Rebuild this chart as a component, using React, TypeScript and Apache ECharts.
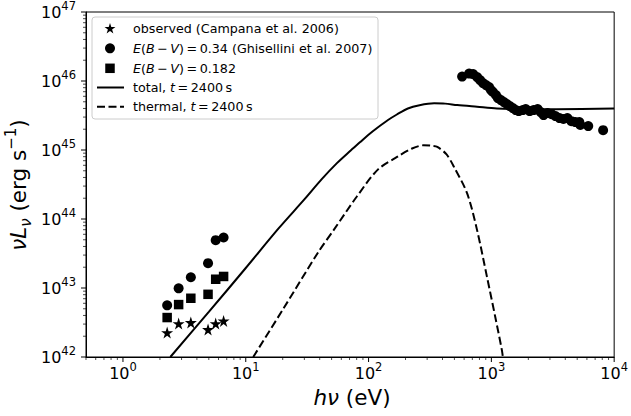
import React, { useEffect, useRef } from "react";
import * as echarts from "echarts";

// ---------------- data ----------------
const OPT_E = [2.29, 2.84, 3.57, 4.93, 5.69, 6.6];
const OBSERVED_L = [2.26e42, 3.05e42, 3.16e42, 2.5e42, 3.05e42, 3.33e42];
const EBV034_L = [5.6e42, 9.9e42, 1.43e43, 2.29e43, 4.93e43, 5.4e43];
const EBV0182_L = [3.73e42, 5.75e42, 7.1e42, 8.1e42, 1.34e43, 1.47e43];

const XRAY_E = [578, 659, 710, 765, 809, 855, 904, 957, 993, 1030, 1089, 1130, 1196, 1265, 1337, 1413, 1496, 1581, 1671, 1803, 1905, 2051, 2210, 2382, 2518, 2661, 2869, 3092, 3329, 3589, 3864, 4159, 4485, 4830, 5203, 5300, 6150, 8130];
const XRAY_L = [1.16e46, 1.28e46, 1.26e46, 1.14e46, 1.03e46, 9.33e45, 8.73e45, 8.17e45, 7.39e45, 6.92e45, 6.25e45, 5.66e45, 5.29e45, 4.95e45, 4.63e45, 4.33e45, 4.05e45, 3.79e45, 3.66e45, 3.79e45, 3.92e45, 3.66e45, 3.79e45, 3.92e45, 3.54e45, 3.21e45, 3.43e45, 3.31e45, 3.1e45, 2.9e45, 2.81e45, 2.9e45, 2.62e45, 2.54e45, 2.54e45, 2.3e45, 2.22e45, 1.94e45];

const TOTAL_E = [2.43, 5, 10, 18.5, 30, 41.4, 55, 70, 85, 99.3, 118, 144, 170, 209, 260, 342, 420, 527, 765, 1110, 2000, 3400, 10000];
const TOTAL_L = [1e42, 4.5e42, 1.95e43, 7.3e43, 1.92e44, 3.75e44, 6.4e44, 9.5e44, 1.29e45, 1.65e45, 2.1e45, 2.72e45, 3.27e45, 4.0e45, 4.45e45, 4.74e45, 4.7e45, 4.48e45, 4.23e45, 4.0e45, 3.88e45, 3.9e45, 4.0e45];

const THERMAL_E = [11.5, 20, 38.9, 53.1, 80, 119, 172, 226, 280, 330, 363, 430, 496, 635, 765, 921, 1076, 1219, 1240];
const THERMAL_L = [1e42, 4.84e42, 3.3e43, 7.3e43, 2.1e44, 5.2e44, 8.0e44, 1.05e45, 1.17e45, 1.15e45, 1.11e45, 8.7e44, 5.7e44, 2.35e44, 6.9e43, 1.45e43, 3.8e42, 1.25e42, 1e42];

// axes / ticks
const X_MIN = 0.5;
const X_MAX = 1e4;
const Y_MIN = 1e42;
const Y_MAX = 1e47;
const X_MAJOR = [1, 10, 100, 1000, 10000];
const Y_MAJOR = [1e42, 1e43, 1e44, 1e45, 1e46, 1e47];
const MINOR_MULT = [2, 3, 4, 5, 6, 7, 8, 9];

const TS = "\u2009"; // thin space (mathtext spacing)
const LEGEND_LABELS = [
  "{n|observed (Campana et al. 2006)}",
  "{i|E}{n|(}{i|B}{n|" + TS + "−" + TS + "}{i|V}{n|)" + TS + "=" + TS + "0.34 (Ghisellini et al. 2007)}",
  "{i|E}{n|(}{i|B}{n|" + TS + "−" + TS + "}{i|V}{n|)" + TS + "=" + TS + "0.182}",
  "{n|total, }{i|t}{n|" + TS + "=" + TS + "2400" + TS + "s}",
  "{n|thermal, }{i|t}{n|" + TS + "=" + TS + "2400" + TS + "s}",
];

const STAR_PTS = [
  [50, 0], [61.2, 34.5], [97.55, 34.5], [68.15, 55.9], [79.4, 90.45],
  [50, 69.1], [20.6, 90.45], [31.85, 55.9], [2.45, 34.5], [38.8, 34.5],
];
const STAR_PATH =
  "path://" + STAR_PTS.map((p, i) => (i === 0 ? "M" : "L") + p[0] + " " + p[1]).join("") + "Z";

const FONT = "DejaVu Sans";
const LEG_FS = 12.7;
const TITLE_FS = 21.5;

function zip(xs: number[], ys: number[]) {
  return xs.map((x, i) => [x, ys[i]]);
}

function buildTicks() {
  const out: number[][] = [];
  X_MAJOR.forEach((v) => out.push([v, Y_MIN, 0]));
  for (let d = -1; d <= 3; d++) {
    MINOR_MULT.forEach((m) => {
      const v = m * Math.pow(10, d);
      if (v >= X_MIN && v <= X_MAX) out.push([v, Y_MIN, 1]);
    });
  }
  Y_MAJOR.forEach((v) => out.push([X_MIN, v, 2]));
  for (let d = 42; d <= 46; d++) {
    MINOR_MULT.forEach((m) => out.push([X_MIN, m * Math.pow(10, d), 3]));
  }
  return out;
}

function powLabel(v: number) {
  const e = Math.log10(v);
  const r = Math.round(e);
  if (Math.abs(e - r) > 1e-6) return "";
  return "{b|10}{s|" + r + "}";
}

const tickRich = {
  b: { fontFamily: FONT, fontSize: 16, lineHeight: 16, color: "#000", verticalAlign: "bottom" },
  s: { fontFamily: FONT, fontSize: 11.5, lineHeight: 12, color: "#000", verticalAlign: "bottom", padding: [0, 0, 8, 0] },
};

export default function App() {
  const ref = useRef<HTMLDivElement>(null);

  useEffect(() => {
    if (!ref.current) return;
    const chart = echarts.init(ref.current, null, { renderer: "svg" });

    const legX = 110;
    const rowY = [28.3, 48.3, 68.3, 87.5, 106.7];
    const starScale = 0.115;
    const starPoly = STAR_PTS.map((p) => [legX + (p[0] - 50) * starScale, rowY[0] + (p[1] - 45.2) * starScale]);

    const legendText = LEGEND_LABELS.map((t, i) => ({
      type: "text",
      z: 101,
      style: {
        x: 133,
        y: rowY[i],
        text: t,
        font: LEG_FS + "px " + FONT,
        fontFamily: FONT,
        fontSize: LEG_FS,
        fill: "#000",
        verticalAlign: "middle",
        align: "left",
        rich: {
          n: { fontFamily: FONT, fontSize: LEG_FS, fill: "#000" },
          i: { fontFamily: FONT, fontSize: LEG_FS, fontStyle: "italic", fill: "#000" },
        },
      },
    }));

    const option: any = {
      animation: false,
      backgroundColor: "#fff",
      grid: {
        left: 86,
        right: 13,
        top: 12,
        bottom: 59,
        show: true,
        borderColor: "#000",
        borderWidth: 1,
      },
      xAxis: {
        type: "log",
        logBase: 10,
        min: X_MIN,
        max: X_MAX,
        axisLine: { show: true, lineStyle: { color: "#000", width: 1 } },
        axisTick: { show: false },
        splitLine: { show: false },
        minorTick: { show: false },
        axisLabel: { formatter: powLabel, margin: 8, rich: tickRich, color: "#000" },
      },
      yAxis: {
        type: "log",
        logBase: 10,
        min: Y_MIN,
        max: Y_MAX,
        axisLine: { show: true, lineStyle: { color: "#000", width: 1 } },
        axisTick: { show: false },
        splitLine: { show: false },
        minorTick: { show: false },
        axisLabel: { formatter: powLabel, margin: 10, rich: tickRich, color: "#000" },
      },
      series: [
        {
          type: "custom",
          coordinateSystem: "cartesian2d",
          silent: true,
          clip: false,
          z: 10,
          data: buildTicks(),
          renderItem: (_params: any, api: any) => {
            const kind = api.value(2);
            const p = api.coord([api.value(0), api.value(1)]);
            const major = kind % 2 === 0;
            const len = major ? 5 : 3;
            const isX = kind < 2;
            return {
              type: "line",
              shape: isX
                ? { x1: p[0], y1: p[1], x2: p[0], y2: p[1] + len }
                : { x1: p[0] - len, y1: p[1], x2: p[0], y2: p[1] },
              style: { stroke: "#000", lineWidth: major ? 1 : 0.7 },
            };
          },
        },
        {
          name: "total",
          type: "line",
          data: zip(TOTAL_E, TOTAL_L),
          showSymbol: false,
          symbol: "none",
          smooth: 0.3,
          lineStyle: { color: "#000", width: 2 },
          z: 3,
        },
        {
          name: "thermal",
          type: "line",
          data: zip(THERMAL_E, THERMAL_L),
          showSymbol: false,
          symbol: "none",
          smooth: 0.3,
          lineStyle: { color: "#000", width: 2, type: [8, 3.5] },
          z: 3,
        },
        {
          name: "observed",
          type: "scatter",
          data: zip(OPT_E, OBSERVED_L),
          symbol: STAR_PATH,
          symbolSize: 12,
          itemStyle: { color: "#000", opacity: 1 },
          z: 4,
        },
        {
          name: "ebv034",
          type: "scatter",
          data: zip(OPT_E, EBV034_L).concat(zip(XRAY_E, XRAY_L)),
          symbol: "circle",
          symbolSize: 10,
          itemStyle: { color: "#000", opacity: 1 },
          z: 4,
        },
        {
          name: "ebv0182",
          type: "scatter",
          data: zip(OPT_E, EBV0182_L),
          symbol: "rect",
          symbolSize: 9.5,
          itemStyle: { color: "#000", opacity: 1 },
          z: 4,
        },
      ],
      graphic: [
        {
          type: "rect",
          z: 100,
          shape: { x: 92, y: 17, width: 286, height: 102, r: 3 },
          style: { fill: "rgba(255,255,255,0.8)", stroke: "#cccccc", lineWidth: 1 },
        },
        { type: "polygon", z: 101, shape: { points: starPoly }, style: { fill: "#000" } },
        { type: "circle", z: 101, shape: { cx: legX, cy: rowY[1], r: 5 }, style: { fill: "#000" } },
        { type: "rect", z: 101, shape: { x: legX - 4.75, y: rowY[2] - 4.75, width: 9.5, height: 9.5 }, style: { fill: "#000" } },
        { type: "line", z: 101, shape: { x1: 97, y1: rowY[3], x2: 124, y2: rowY[3] }, style: { stroke: "#000", lineWidth: 2 } },
        { type: "line", z: 101, shape: { x1: 97, y1: rowY[4], x2: 124, y2: rowY[4] }, style: { stroke: "#000", lineWidth: 2, lineDash: [8, 3.5] } },
        ...legendText,
        {
          type: "text",
          z: 101,
          style: {
            x: 352,
            y: 397,
            text: "{i|hν}{n| (eV)}",
            font: TITLE_FS + "px " + FONT,
            fontFamily: FONT,
            fontSize: TITLE_FS,
            fill: "#000",
            align: "center",
            verticalAlign: "middle",
            rich: {
              i: { fontFamily: FONT, fontSize: TITLE_FS, fontStyle: "italic", fill: "#000" },
              n: { fontFamily: FONT, fontSize: TITLE_FS, fill: "#000" },
            },
          },
        },
        {
          type: "text",
          z: 101,
          x: 22,
          y: 185,
          rotation: Math.PI / 2,
          style: {
            x: 0,
            y: 0,
            text: "{i|νL}{sub|ν}{n| (erg s}{sup|−1}{n|)}",
            font: TITLE_FS + "px " + FONT,
            fontFamily: FONT,
            fontSize: TITLE_FS,
            fill: "#000",
            align: "center",
            verticalAlign: "middle",
            rich: {
              i: { fontFamily: FONT, fontSize: TITLE_FS, lineHeight: 22, fontStyle: "italic", fill: "#000", verticalAlign: "bottom", padding: [0, 0, 4, 0] },
              n: { fontFamily: FONT, fontSize: TITLE_FS, lineHeight: 22, fill: "#000", verticalAlign: "bottom", padding: [0, 0, 4, 0] },
              sub: { fontFamily: FONT, fontSize: 15, lineHeight: 15, fontStyle: "italic", fill: "#000", verticalAlign: "bottom" },
              sup: { fontFamily: FONT, fontSize: 15, lineHeight: 15, fill: "#000", verticalAlign: "bottom", padding: [0, 0, 15, 0] },
            },
          },
        },
      ],
    };

    chart.setOption(option);
    return () => chart.dispose();
  }, []);

  return (
    <div style={{ position: "fixed", left: 0, top: 0, width: 631, height: 416, background: "#fff" }}>
      <div ref={ref} style={{ width: 631, height: 416 }} />
    </div>
  );
}
